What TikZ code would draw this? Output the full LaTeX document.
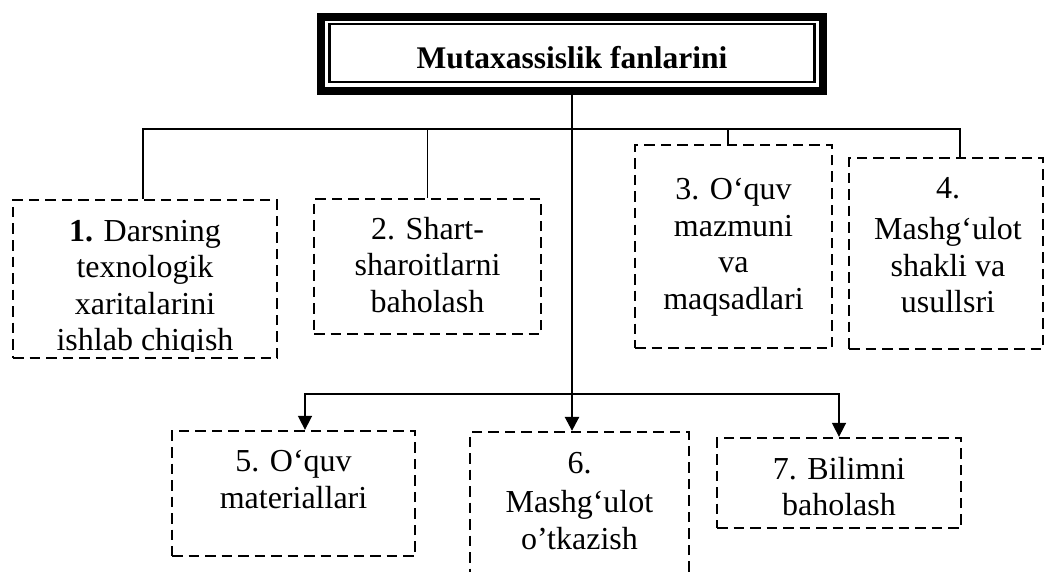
\documentclass[tikz,border=0pt]{standalone}
\usepackage{fontspec}
\setmainfont{Liberation Serif}
\usetikzlibrary{arrows.meta}
\begin{document}
\begin{tikzpicture}[x=1pt,y=-1pt,
  boxtext/.style={font=\fontsize{32}{36.5}\selectfont, align=center, inner sep=0pt, anchor=north},
  dashbox/.style={draw, line width=2.3pt, dash pattern=on 10.5pt off 6pt, inner sep=0pt},
  link/.style={line width=1.6pt},
  trunk/.style={line width=2.6pt},
  tip/.style={-{Triangle[length=14pt,width=14pt]}}
]
\useasboundingbox (0,0) rectangle (1046,572);
\clip (0,0) rectangle (1046,572);

% heading frame: thick outer line, thin inner line
\node[draw, line width=8pt, minimum width=502pt, minimum height=74pt, inner sep=0pt] (head) at (572,54) {};
\draw[line width=2.5pt] ([shift={(12.5pt,-11pt)}]head.north west) rectangle ([shift={(-12.5pt,13pt)}]head.south east);
\node[font=\fontsize{31.5}{36}\selectfont\bfseries, anchor=base, inner sep=0pt] (title) at (572,69) {Mutaxassislik fanlarini};

% dashed boxes
\node[dashbox, minimum width=264pt, minimum height=158pt] (b1) at (145,279) {};
\node[dashbox, minimum width=227pt, minimum height=135pt] (b2) at (427.5,266.5) {};
\node[dashbox, minimum width=197pt, minimum height=203pt] (b3) at (733.5,246.5) {};
\node[dashbox, minimum width=194pt, minimum height=191pt] (b4) at (946,253.5) {};
\node[dashbox, minimum width=243pt, minimum height=125pt] (b5) at (293.5,493.5) {};
\node[dashbox, minimum width=219pt, minimum height=168pt] (b6) at (579.5,516) {};
\node[dashbox, minimum width=244pt, minimum height=90pt] (b7) at (839,483) {};

% box texts
\begin{scope}
  \clip (13,200) rectangle (277,351);
  \node[boxtext] (t1) at (145,220) {\textbf{1.} Darsning\\texnologik\\xaritalarini\\ishlab chiqish};
\end{scope}
\node[boxtext] (t2) at (427.5,217) {2. Shart-\\sharoitlarni\\baholash};
\node[boxtext] (t3) at (733.5,178) {3. Oʻquv\\mazmuni\\va\\maqsadlari};
\node[boxtext] (t4) at (948,177) {4.\\[5pt]Mashgʻulot\\shakli va\\usullsri};
\node[boxtext] (t5) at (293.5,450) {5. Oʻquv\\materiallari};
\node[boxtext] (t6) at (579.5,452) {6.\\[3pt]Mashgʻulot\\o’tkazish};
\node[boxtext] (t7) at (839,457) {7. Bilimni\\baholash};

% connectors
\coordinate (busA) at (0,129);
\coordinate (busB) at (0,394);
\coordinate (c1) at ([xshift=-2pt]b1.north);
\coordinate (c3) at ([xshift=-5.5pt]b3.north);
\coordinate (c4) at ([xshift=14pt]b4.north);
\coordinate (c5) at ([xshift=11.5pt]b5.north);
\coordinate (c6) at (head.south |- b6.north);

\draw[link] (c1) |- (busA -| c4) -- (c4);
\draw[link] (b2.north) -- (b2.north |- busA);
\draw[link] (c3) -- (c3 |- busA);
\draw[trunk, tip] (head.south) -- (c6);
\draw[link, tip] (c6 |- busB) -| (c5);
\draw[link, tip] (c6 |- busB) -| (b7.north);
\end{tikzpicture}
\end{document}
